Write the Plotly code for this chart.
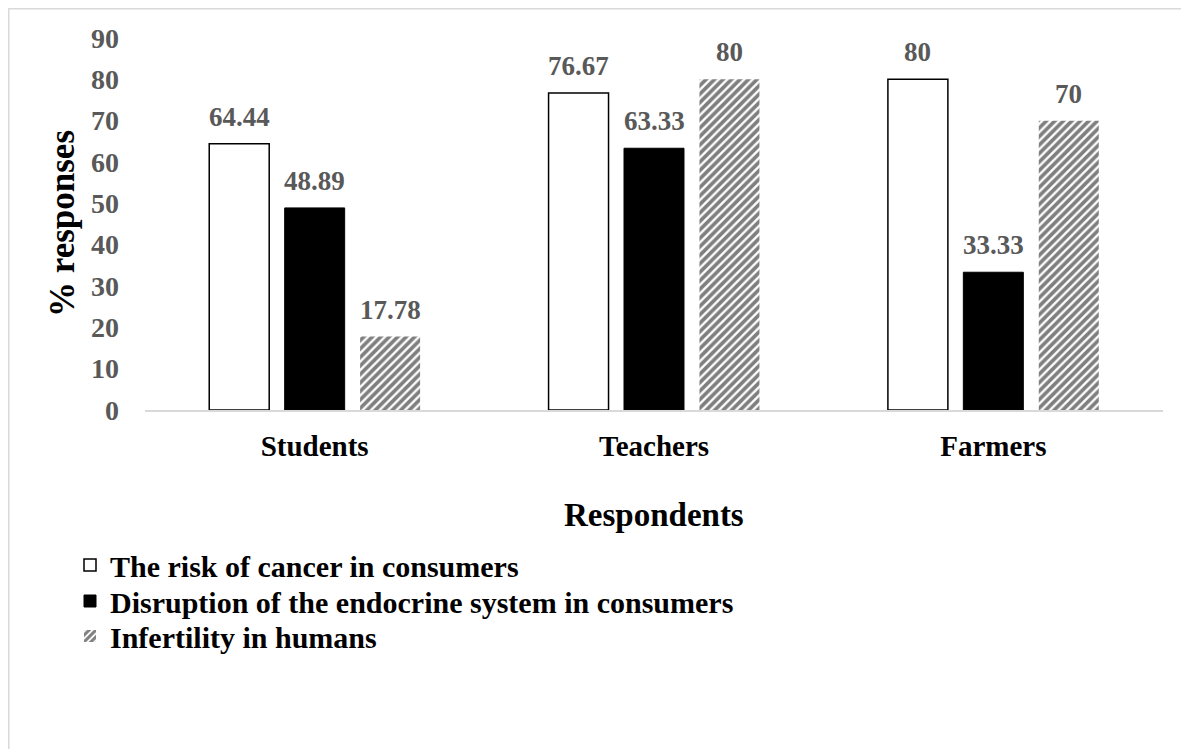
import plotly.graph_objects as go

categories = ["Students", "Teachers", "Farmers"]
series_names = [
    "The risk of cancer in consumers",
    "Disruption of the endocrine system in consumers",
    "Infertility in humans",
]
cancer = [64.44, 76.67, 80]
endocrine = [48.89, 63.33, 33.33]
infertility = [17.78, 80, 70]
label_cancer = ["64.44", "76.67", "80"]
label_endocrine = ["48.89", "63.33", "33.33"]
label_infertility = ["17.78", "80", "70"]
y_ticks = [0, 10, 20, 30, 40, 50, 60, 70, 80, 90]

FONT = "Liberation Serif"
GRAY = "#595959"

# page has an 8px body margin; figure fills the rest
W, H = 1181, 741
L, R, T, B = 137, 26, 30, 339
plot_w = W - L - R
plot_h = H - T - B
BASE = H - B  # y pixel of the x axis


def px_x(x):
    return (x - L) / plot_w


def px_y(y):
    return (BASE - y) / plot_h


fig = go.Figure()
fig.add_trace(go.Bar(
    name=series_names[0], x=categories, y=cancer, legend="legend",
    marker=dict(color="white", line=dict(color="black", width=1.5)),
))
fig.add_trace(go.Bar(
    name=series_names[1], x=categories, y=endocrine, legend="legend2",
    marker=dict(color="black", line=dict(color="black", width=1)),
))
fig.add_trace(go.Bar(
    name=series_names[2], x=categories, y=infertility, legend="legend3",
    marker=dict(color="white", line=dict(color="white", width=0),
                pattern=dict(shape="/", fgcolor="black", bgcolor="white",
                             size=6, solidity=0.62)),
))

BARGAP = 0.333
slot_px = plot_w / 3 * (1 - BARGAP) / 3
annotations = []
for i, (vals, labs) in enumerate([(cancer, label_cancer),
                                  (endocrine, label_endocrine),
                                  (infertility, label_infertility)]):
    for c, v, t in zip(categories, vals, labs):
        annotations.append(dict(
            x=c, y=v, xref="x", yref="y", text=t, showarrow=False,
            xshift=(i - 1) * slot_px, yshift=27, yanchor="middle",
            font=dict(family=FONT, size=27, color=GRAY, weight="bold"),
        ))

annotations.append(dict(
    x=0.5, y=px_y(507), xref="paper", yref="paper",
    text="Respondents", showarrow=False, xanchor="center", yanchor="middle",
    font=dict(family=FONT, size=33, color="black", weight="bold"),
))
annotations.append(dict(
    x=px_x(54), y=0.5, xref="paper", yref="paper",
    text="% responses", showarrow=False, textangle=-90,
    xanchor="center", yanchor="middle",
    font=dict(family=FONT, size=35, color="black", weight="bold"),
))

legend_font = dict(family=FONT, size=30, color="black", weight="bold")
legend_common = dict(xanchor="left", yanchor="middle", font=legend_font,
                     itemwidth=30, bgcolor="rgba(0,0,0,0)")

fig.update_layout(
    width=W, height=H,
    margin=dict(l=L, r=R, t=T, b=B, autoexpand=False),
    paper_bgcolor="white", plot_bgcolor="white",
    barmode="group", bargap=BARGAP, bargroupgap=0.205,
    font=dict(family=FONT, size=22, color="black"),
    showlegend=True,
    legend=dict(x=px_x(62), y=px_y(557), **legend_common),
    legend2=dict(x=px_x(62), y=px_y(593), **legend_common),
    legend3=dict(x=px_x(62), y=px_y(628), **legend_common),
    annotations=annotations,
    shapes=[dict(
        type="rect", xref="paper", yref="paper",
        x0=px_x(0.75), x1=px_x(W + 20),
        y0=px_y(H + 20), y1=px_y(0.75),
        line=dict(color="#d9d9d9", width=1.5), fillcolor="rgba(0,0,0,0)",
        layer="below",
    )],
)
fig.update_xaxes(
    showline=True, linecolor="#d9d9d9", linewidth=1.5,
    showgrid=False, ticks="", ticklabelstandoff=9,
    tickfont=dict(family=FONT, size=29, color="black", weight="bold"),
)
fig.update_yaxes(
    range=[0, 90], tickvals=y_ticks,
    showgrid=False, showline=False, zeroline=False, ticks="",
    ticklabelstandoff=25,
    tickfont=dict(family=FONT, size=28, color=GRAY, weight="bold"),
)

fig.write_html("out.html")
